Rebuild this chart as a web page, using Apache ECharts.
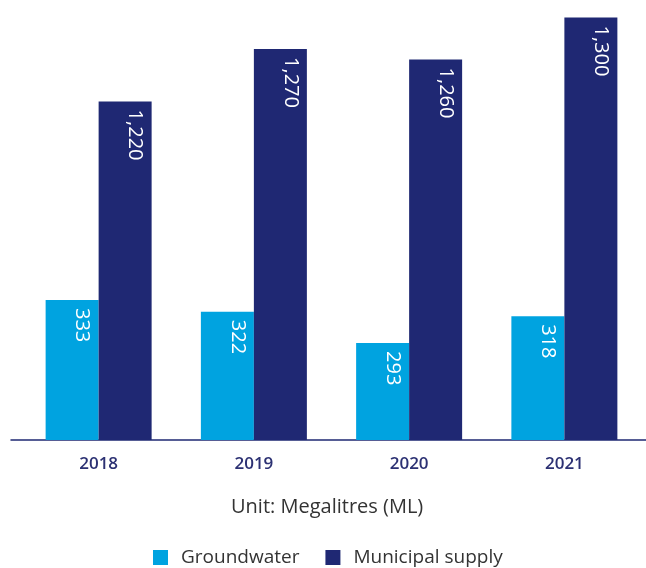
<!DOCTYPE html>
<html>
<head>
<meta charset="utf-8">
<script src="https://cdn.jsdelivr.net/npm/echarts@6/dist/echarts.min.js"></script>
<style>html,body{margin:0;padding:0;background:#fff}#c{width:646px;height:568px}</style>
</head>
<body>
<div id="c"></div>
<script>
const categories = ['2018', '2019', '2020', '2021'];
const groundwater = [333, 322, 293, 318];
const municipal = [1220, 1270, 1260, 1300];
const seriesNames = ['Groundwater', 'Municipal supply'];
const unitText = 'Unit: Megalitres (ML)';

const FONT = '"Open Sans", "Noto Sans", sans-serif';
const C_GW = '#00A3E0';
const C_MU = '#1F2873';
const C_AX = '#2C3173';

const chart = echarts.init(document.getElementById('c'), null, {renderer: 'canvas'});
const valLabel = {
  show: true,
  position: 'insideTop',
  rotate: -90,
  distance: 8,
  offset: [0, -10],
  align: 'left',
  verticalAlign: 'middle',
  color: '#fff',
  fontFamily: FONT,
  fontSize: 20,
  formatter: p => p.value.toLocaleString('en-US')
};
chart.setOption({
  animation: false,
  title: {
    text: unitText,
    left: 231,
    top: 492,
    padding: [5, 0, 5, 0],
    textStyle: {fontFamily: FONT, fontSize: 20, fontWeight: 'normal', color: '#333'}
  },
  legend: {
    data: seriesNames,
    left: 153,
    top: 548,
    padding: 0,
    itemWidth: 15,
    itemHeight: 15,
    itemGap: 26,
    icon: 'rect',
    textStyle: {fontFamily: FONT, fontSize: 19, color: '#333', padding: [0, 0, 0, 8]}
  },
  grid: [
    {left: 21, right: 4, top: 7, bottom: 128, containLabel: false},
    {left: 11, right: 0, top: 7, bottom: 128, containLabel: false}
  ],
  xAxis: [
    {
      type: 'category', gridIndex: 0, data: categories,
      axisLine: {show: false, onZero: false}, axisTick: {show: false},
      axisLabel: {margin: 16, color: C_AX, fontFamily: FONT, fontSize: 17, fontWeight: 600}
    },
    {
      type: 'value', gridIndex: 1, min: 0, max: 1,
      axisLine: {show: true, onZero: false, lineStyle: {color: C_MU, width: 1.5}},
      axisTick: {show: false}, axisLabel: {show: false}, splitLine: {show: false}
    }
  ],
  yAxis: [
    {type: 'value', gridIndex: 0, min: 203, max: 605, show: false, splitLine: {show: false}},
    {type: 'value', gridIndex: 0, min: 898, max: 1310, show: false, splitLine: {show: false}},
    {type: 'value', gridIndex: 1, min: 0, max: 1, show: false}
  ],
  series: [
    {
      name: seriesNames[0], type: 'bar', xAxisIndex: 0, yAxisIndex: 0,
      data: groundwater, barWidth: 53, barGap: '0%',
      itemStyle: {color: C_GW}, label: valLabel
    },
    {
      name: seriesNames[1], type: 'bar', xAxisIndex: 0, yAxisIndex: 1,
      data: municipal, barWidth: 53, barGap: '0%',
      itemStyle: {color: C_MU}, label: valLabel
    }
  ]
});
</script>
</body>
</html>
